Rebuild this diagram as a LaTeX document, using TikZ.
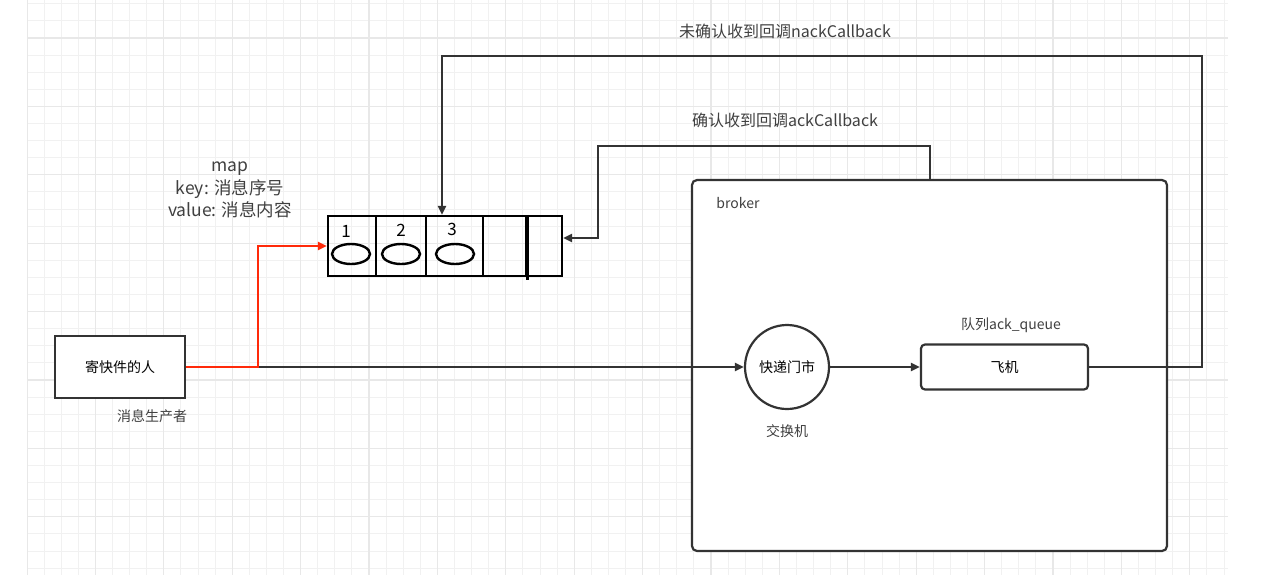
\documentclass[tikz,border=0pt]{standalone}
\usepackage{fontspec}
\setmainfont{Noto Sans CJK SC}
\usetikzlibrary{arrows.meta,calc,shapes.geometric}
\definecolor{ink}{HTML}{333333}
\definecolor{txt}{HTML}{404040}
\definecolor{gridminor}{HTML}{F1F1F1}
\definecolor{gridmajor}{HTML}{E8E8E8}
\definecolor{redline}{HTML}{FF2A0A}
\newcommand{\fs}[1]{\fontsize{#1}{#1}\selectfont}
\newcommand{\fsmap}{\fontsize{17.5}{22.5}\selectfont}
\begin{document}
\begin{tikzpicture}[x=1pt,y=-1pt,
  conn/.style={draw=ink,line width=2.2pt},
  arr/.style={conn,-{Triangle[length=9pt,width=8pt]}},
  box/.style={draw=ink,line width=2.2pt,fill=white,inner sep=0pt},
  cell/.style={draw=black,line width=2.2pt,inner sep=0pt,minimum height=60pt},
  lbl/.style={text=txt,inner sep=0pt},
  oval/.style={draw=black,line width=2.4pt,ellipse,minimum width=38pt,minimum height=20pt,inner sep=0pt}]
\useasboundingbox (0,0) rectangle (1282,582);
\fill[white] (0,0) rectangle (1282,582);
% grid
\begin{scope}
\clip (27,0) rectangle (1228,575);
\foreach \i in {0,...,71} {
  \draw[gridminor,line width=1pt] (27+\i*17.1,0) -- (27+\i*17.1,575);
}
\foreach \j in {0,...,34} {
  \draw[gridminor,line width=1pt] (27,3.8+\j*17.1) -- (1228,3.8+\j*17.1);
}
\foreach \i in {0,...,18} {
  \draw[gridmajor,line width=1.2pt] (95.4+\i*68.4-68.4,0) -- (95.4+\i*68.4-68.4,575);
}
\foreach \j in {0,...,8} {
  \draw[gridmajor,line width=1.2pt] (27,38+\j*68.4) -- (1228,38+\j*68.4);
}
\end{scope}
% broker
\node[box,rounded corners=5pt,minimum width=475pt,minimum height=371pt] (broker) at (929.5,365.5) {};
\node[lbl,font=\fs{14}] (brokerl) at (738,203) {broker};
% producer
\node[box,minimum width=130pt,minimum height=62pt,font=\fs{14}] (prod) at (120,367) {寄快件的人};
\node[lbl,font=\fs{14}] (prodl) at (152,416) {消息生产者};
% map cells
\node[cell,minimum width=48pt] (c1) at (352,246) {};
\node[cell,minimum width=50pt] (c2) at (401,246) {};
\node[cell,minimum width=57pt] (c3) at (454.5,246) {};
\node[cell,minimum width=43pt] (c4) at (504.5,246) {};
\node[cell,minimum width=36pt] (c5) at (544,246) {};
\draw[black,line width=3pt] (c4.north east) -- ($(c4.south east)+(0,3)$);
\node[oval] (o1) at (351,254) {};
\node[oval] (o2) at (401,254) {};
\node[oval] (o3) at (455,254) {};
\node[inner sep=0pt,font=\fs{17}] (n1) at (346,231) {1};
\node[inner sep=0pt,font=\fs{17}] (n2) at (401,230) {2};
\node[inner sep=0pt,font=\fs{17}] (n3) at (452,229) {3};
\node[lbl,align=center,font=\fsmap] (mapl) at (230,190) {map\\key: 消息序号\\value: 消息内容};
% exchange and queue
\node[draw=ink,line width=2.2pt,circle,minimum size=84pt,inner sep=0pt,fill=white,font=\fs{14}] (exch) at (787,367) {快递门市};
\node[lbl,font=\fs{14}] (exchl) at (787,431) {交换机};
\node[box,rounded corners=4pt,minimum width=167pt,minimum height=45pt,font=\fs{14}] (queue) at (1004.5,367) {飞机};
\node[lbl,font=\fs{14}] (queuel) at (1011,325) {队列ack\_queue};
% labels of callbacks
\node[lbl,font=\fs{16}] (nackl) at (785,31) {未确认收到回调nackCallback};
\node[lbl,font=\fs{16}] (ackl) at (785,120) {确认收到回调ackCallback};
% coordinates
\coordinate (j) at (258,367);
\coordinate (nr) at (1202,367);
\coordinate (nt) at (442,56);
\coordinate (a1) at (930,146);
\coordinate (a2) at (598,146);
\coordinate (a3) at (598,238);
% connectors
\draw[arr] (j) -- (exch.west);
\draw[arr] (exch.east) -- (queue.west);
\draw[conn,draw=redline,-{Triangle[length=9pt,width=8pt]}] (prod.east) -- (j) |- (c1.west);
\draw[arr] (queue.east) -- (nr) |- (nt) -- (nt |- c3.north);
\draw[arr] (a1 |- broker.north) -- (a1) -- (a2) -- (a3) -- (a3 -| c5.east);
\end{tikzpicture}
\end{document}
